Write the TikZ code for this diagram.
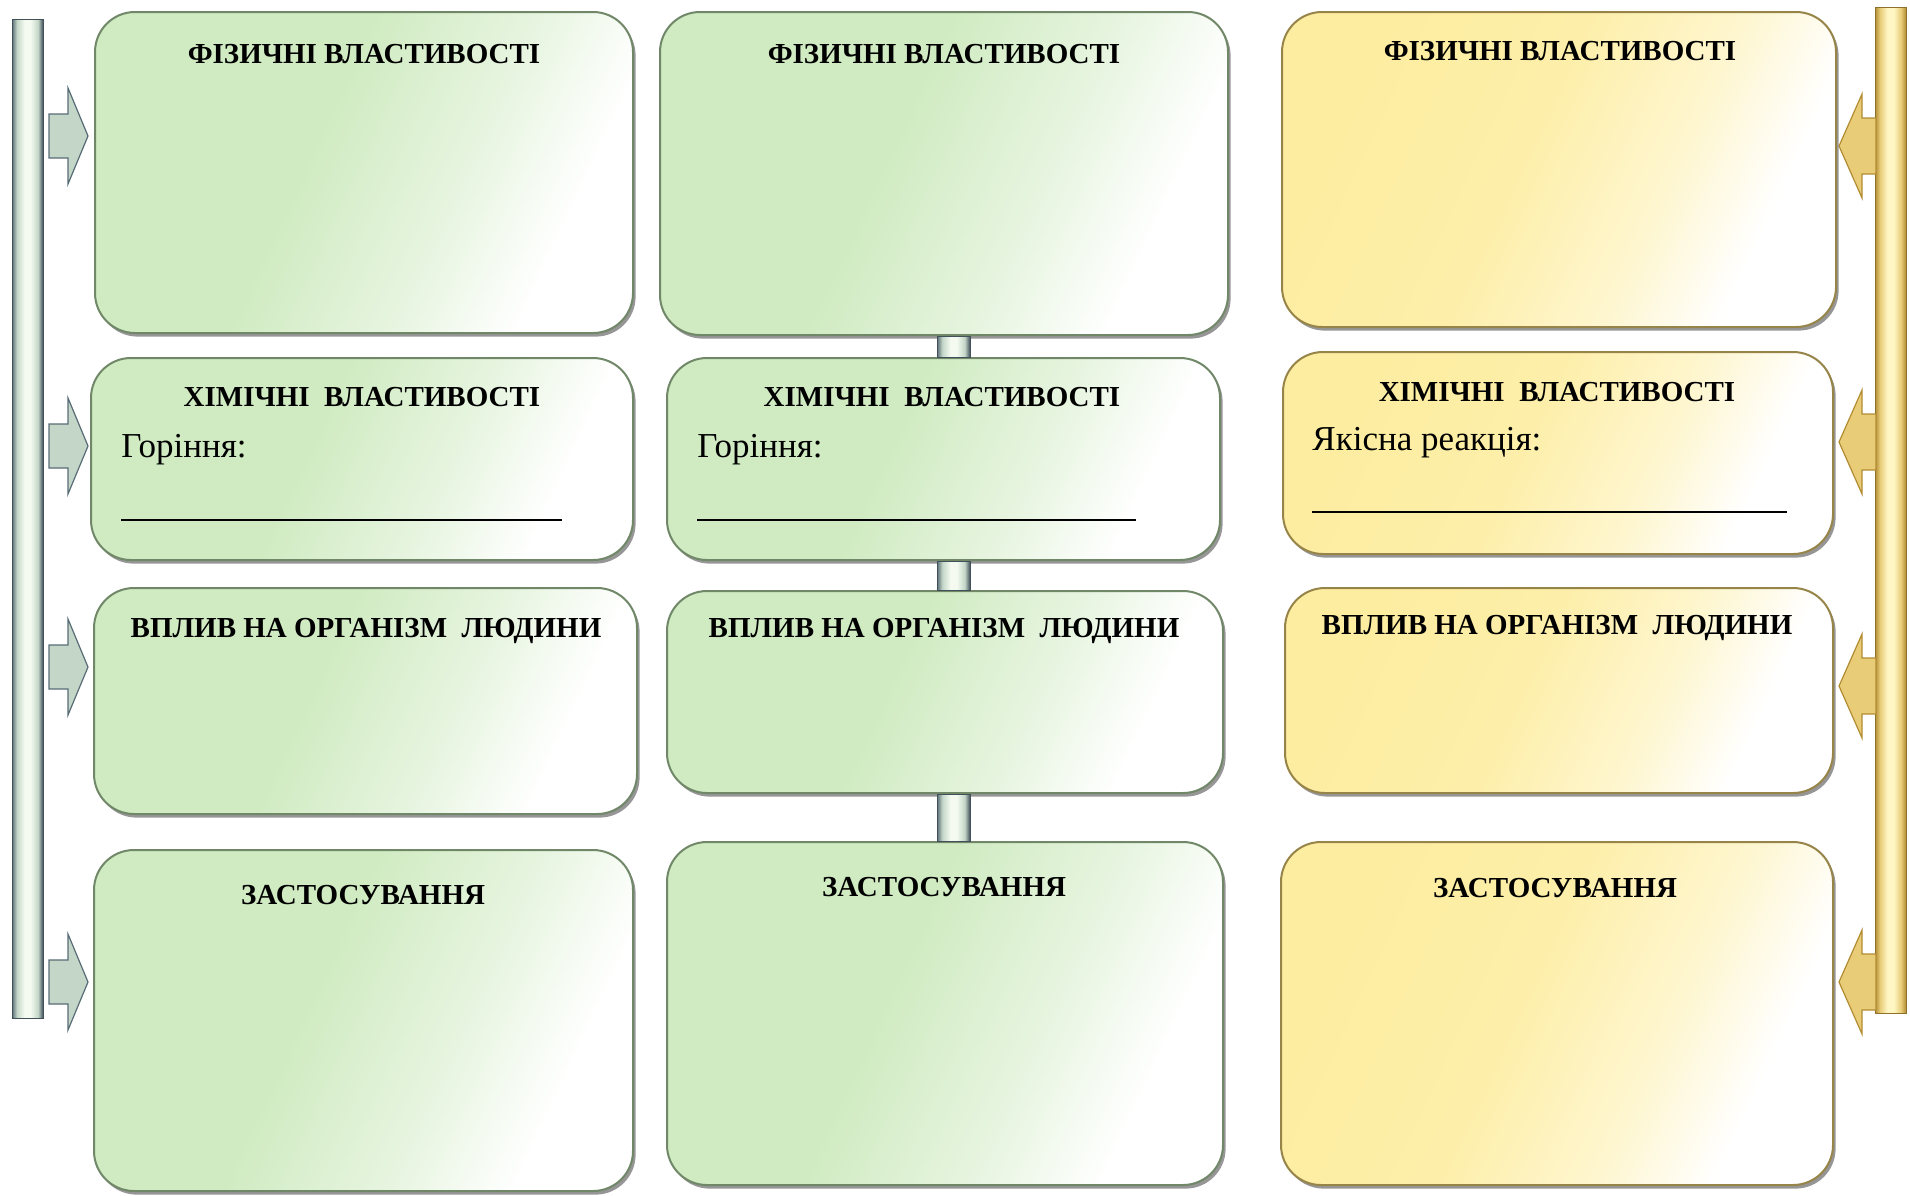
\documentclass[tikz,border=0pt]{standalone}
\usepackage{fontspec}
\setmainfont{Liberation Serif}
\usetikzlibrary{fit,shadows}

% palette
\definecolor{leaf}{RGB}{208,235,194}
\definecolor{straw}{RGB}{253,237,160}
\definecolor{rimgreen}{RGB}{112,135,104}
\definecolor{rimgold}{RGB}{150,132,72}
\definecolor{steel}{RGB}{88,108,118}
\definecolor{steeldk}{RGB}{66,80,90}
\definecolor{mist}{RGB}{195,214,200}
\definecolor{frost}{RGB}{244,250,240}
\definecolor{goldrim}{RGB}{178,140,50}
\definecolor{goldmid}{RGB}{232,204,120}
\definecolor{goldlight}{RGB}{255,246,196}

% card fills: colour on the upper left, fading to white towards the lower right
\pgfdeclarehorizontalshading{leaffade}{100bp}{color(0bp)=(leaf); color(25bp)=(leaf); color(44bp)=(leaf); color(60bp)=(leaf!50!white); color(72bp)=(white); color(100bp)=(white)}
\pgfdeclarehorizontalshading{strawfade}{100bp}{color(0bp)=(straw); color(25bp)=(straw); color(46bp)=(straw!90!white); color(61bp)=(straw!50!white); color(72bp)=(white); color(100bp)=(white)}
% cylinder look for the rails and joints
\pgfdeclarehorizontalshading{silvercyl}{100bp}{color(0bp)=(steel); color(25bp)=(steel); color(33bp)=(mist); color(45bp)=(frost); color(55bp)=(frost); color(67bp)=(mist); color(75bp)=(steeldk); color(100bp)=(steeldk)}
\pgfdeclarehorizontalshading{goldcyl}{100bp}{color(0bp)=(goldrim); color(25bp)=(goldrim); color(33bp)=(goldmid); color(45bp)=(goldlight); color(55bp)=(goldlight); color(67bp)=(goldmid); color(75bp)=(goldrim); color(100bp)=(goldrim)}

\tikzset{
  card/.style={rounded corners=20pt, inner sep=0pt, draw=#1, line width=1pt,
    drop shadow={shadow xshift=1.3pt, shadow yshift=-1.8pt, opacity=0.55, fill=black!75}},
  leafcard/.style={card=rimgreen, shade, shading=leaffade, shading angle=-25},
  strawcard/.style={card=rimgold, shade, shading=strawfade, shading angle=-25},
  head/.style={font=\bfseries\fontsize{14.5}{16}\selectfont, inner sep=0pt},
  body/.style={font=\fontsize{17.5}{20}\selectfont, inner sep=0pt, anchor=west},
  rule/.style={line width=1pt, black},
  silverbar/.style={shade, shading=silvercyl, draw=steeldk, line width=0.5pt},
  goldbar/.style={shade, shading=goldcyl, draw=goldrim!80!black, line width=0.5pt},
  silverpointer/.style={top color=mist, middle color=frost, bottom color=mist, draw=steel, line width=0.6pt},
  goldpointer/.style={top color=goldmid, middle color=goldlight, bottom color=goldmid, draw=goldrim, line width=0.6pt},
}

\begin{document}
\begin{tikzpicture}[x=0.5pt, y=-0.5pt]
\useasboundingbox (0,0) rectangle (1910,1195);

% side rails
\path[silverbar] (12,19) rectangle (43,1018);
\path[goldbar] (1875,7) rectangle (1906,1013);

% pointers from the rails to the cards
\foreach \c in {136,446,667,982}
  \path[silverpointer] (49,\c-22) -- (68,\c-22) -- (68,\c-48) -- (88,\c)
    -- (68,\c+48) -- (68,\c+22) -- (49,\c+22) -- cycle;
\foreach \c in {146,442,686,982}
  \path[goldpointer] (1876,\c-28) -- (1862,\c-28) -- (1862,\c-52) -- (1839,\c)
    -- (1862,\c+52) -- (1862,\c+28) -- (1876,\c+28) -- cycle;

% first column
\node[leafcard, fit={(95,12) (633,333)}] (b11) {};
\node[leafcard, fit={(91,358) (633,560)}] (b12) {};
\node[leafcard, fit={(94,588) (637,814)}] (b13) {};
\node[leafcard, fit={(94,850) (633,1191)}] (b14) {};

% second column
\node[leafcard, fit={(660,12) (1228,335)}] (b21) {};
\node[leafcard, fit={(667,358) (1220,560)}] (b22) {};
\node[leafcard, fit={(667,591) (1223,793)}] (b23) {};
\node[leafcard, fit={(667,842) (1223,1185)}] (b24) {};

% joints between the cards of the second column
\coordinate (jl) at (937,0);
\coordinate (jr) at (970,0);
\path[silverbar] (jl |- b21.south) rectangle (jr |- b22.north);
\path[silverbar] (jl |- b22.south) rectangle (jr |- b23.north);
\path[silverbar] (jl |- b23.south) rectangle (jr |- b24.north);

% third column
\node[strawcard, fit={(1282,12) (1836,327)}] (b31) {};
\node[strawcard, fit={(1283,352) (1833,554)}] (b32) {};
\node[strawcard, fit={(1285,588) (1833,793)}] (b33) {};
\node[strawcard, fit={(1281,842) (1833,1185)}] (b34) {};

% headings
\node[head] (h11) at (364,54) {ФІЗИЧНІ ВЛАСТИВОСТІ};
\node[head] (h12) at (362,397) {ХІМІЧНІ~ ВЛАСТИВОСТІ};
\node[head] (h13) at (366,631) {ВПЛИВ НА ОРГАНІЗМ~ ЛЮДИНИ};
\node[head] (h14) at (363,895) {ЗАСТОСУВАННЯ};

\node[head] (h21) at (944,54) {ФІЗИЧНІ ВЛАСТИВОСТІ};
\node[head] (h22) at (942,397) {ХІМІЧНІ~ ВЛАСТИВОСТІ};
\node[head] (h23) at (944,631) {ВПЛИВ НА ОРГАНІЗМ~ ЛЮДИНИ};
\node[head] (h24) at (944,887) {ЗАСТОСУВАННЯ};

\node[head] (h31) at (1560,51) {ФІЗИЧНІ ВЛАСТИВОСТІ};
\node[head] (h32) at (1557,392) {ХІМІЧНІ~ ВЛАСТИВОСТІ};
\node[head] (h33) at (1557,628) {ВПЛИВ НА ОРГАНІЗМ~ ЛЮДИНИ};
\node[head] (h34) at (1555,888) {ЗАСТОСУВАННЯ};

% prompts with blank lines
\node[body] (p12) at (121,450) {Горіння:};
\draw[rule] (121,520) -- (562,520);
\node[body] (p22) at (697,450) {Горіння:};
\draw[rule] (697,520) -- (1136,520);
\node[body] (p32) at (1312,443) {Якісна реакція:};
\draw[rule] (1312,512) -- (1787,512);
\end{tikzpicture}
\end{document}
